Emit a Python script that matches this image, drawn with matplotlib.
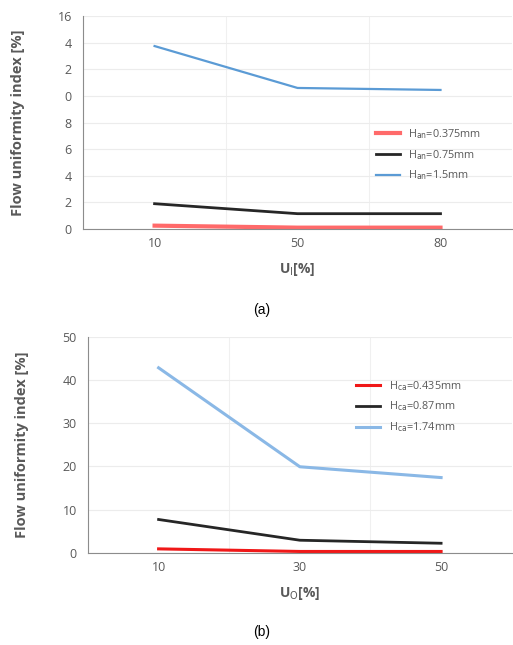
import matplotlib
matplotlib.use("Agg")
import matplotlib.pyplot as plt
import numpy as np

plt.rcParams['font.family'] = ['Open Sans', 'DejaVu Sans']

# (a) anode channel
ui_labels = ['10', '50', '80']
an_0375 = [0.25, 0.1, 0.1]
an_075 = [1.9, 1.15, 1.15]
an_15 = [13.75, 10.6, 10.45]
a_yticks = [0, 2, 4, 6, 8, 10, 12, 14, 16]
a_yticklabels = ['0', '2', '4', '6', '8', '0', '2', '4', '16']  # as printed in the source

# (b) cathode channel
uo_labels = ['10', '30', '50']
ca_0435 = [0.9, 0.3, 0.3]
ca_087 = [7.7, 2.9, 2.2]
ca_174 = [42.8, 19.9, 17.4]
b_yticks = [0, 10, 20, 30, 40, 50]

RED_A = '#ff6a6a'
RED_B = '#f01818'
BLACK = '#262626'
BLUE_A = '#5b9bd5'
BLUE_B = '#8ab8e6'
GRAY = '#595959'


def style_axes(ax, labels, yticks, ylim):
    x = np.arange(len(labels))
    ax.set_xlim(-0.5, len(labels) - 0.5)
    ax.set_ylim(*ylim)
    ax.set_xticks(x)
    ax.set_xticklabels(labels)
    ax.set_yticks(yticks)
    ax.set_xticks(np.arange(len(labels) + 1) - 0.5, minor=True)
    ax.grid(True, axis='y', color='#ececec', linewidth=0.8)
    ax.grid(True, axis='x', which='minor', color='#f0f0f0', linewidth=0.8)
    ax.tick_params(axis='both', which='both', length=0, colors=GRAY, labelsize=9)
    ax.tick_params(axis='x', pad=6)
    ax.tick_params(axis='y', pad=8)
    for side in ['top', 'right']:
        ax.spines[side].set_visible(False)
    ax.spines['left'].set_color('#8c8c8c')
    ax.spines['bottom'].set_color('#8c8c8c')
    ax.set_axisbelow(True)
    ax.set_ylabel('Flow uniformity index [%]', fontsize=10.5, fontweight='bold', color=GRAY)
    return x


fig = plt.figure(figsize=(5.13, 6.45), dpi=100)

ax1 = fig.add_axes([0.162, 0.645, 0.836, 0.330])
x1 = style_axes(ax1, ui_labels, a_yticks, (0, 16))
ax1.set_yticklabels(a_yticklabels)
ax1.plot(x1, an_0375, color=RED_A, linewidth=3.0, label=r'H$_{\mathrm{an}}$=0.375mm')
ax1.plot(x1, an_075, color=BLACK, linewidth=2.0, label=r'H$_{\mathrm{an}}$=0.75mm')
ax1.plot(x1, an_15, color=BLUE_A, linewidth=1.6, label=r'H$_{\mathrm{an}}$=1.5mm')
ax1.set_xlabel(r'U$_{\mathrm{I}}$[%]', fontsize=10, fontweight='bold', color=GRAY, labelpad=8)
ax1.legend(loc='upper left', bbox_to_anchor=(0.66, 0.525), frameon=False, fontsize=7.8,
           handlelength=2.2, labelcolor=GRAY, labelspacing=0.65)
ax1.yaxis.set_label_coords(-0.135, 0.5)

ax2 = fig.add_axes([0.1715, 0.143, 0.826, 0.335])
x2 = style_axes(ax2, uo_labels, b_yticks, (0, 50))
ax2.plot(x2, ca_0435, color=RED_B, linewidth=2.2, label=r'H$_{\mathrm{ca}}$=0.435mm')
ax2.plot(x2, ca_087, color=BLACK, linewidth=2.0, label=r'H$_{\mathrm{ca}}$=0.87mm')
ax2.plot(x2, ca_174, color=BLUE_B, linewidth=2.2, label=r'H$_{\mathrm{ca}}$=1.74mm')
ax2.set_xlabel(r'U$_{\mathrm{O}}$[%]', fontsize=10, fontweight='bold', color=GRAY, labelpad=8)
ax2.legend(loc='upper left', bbox_to_anchor=(0.61, 0.85), frameon=False, fontsize=7.8,
           handlelength=2.2, labelcolor=GRAY, labelspacing=0.65)
ax2.yaxis.set_label_coords(-0.14, 0.5)

fig.text(0.51, 1 - 310 / 645, '(a)', ha='center', va='center', fontsize=10,
         family=['Liberation Sans', 'DejaVu Sans'])
fig.text(0.51, 1 - 632 / 645, '(b)', ha='center', va='center', fontsize=10,
         family=['Liberation Sans', 'DejaVu Sans'])

fig.savefig('out.png', dpi=100)
